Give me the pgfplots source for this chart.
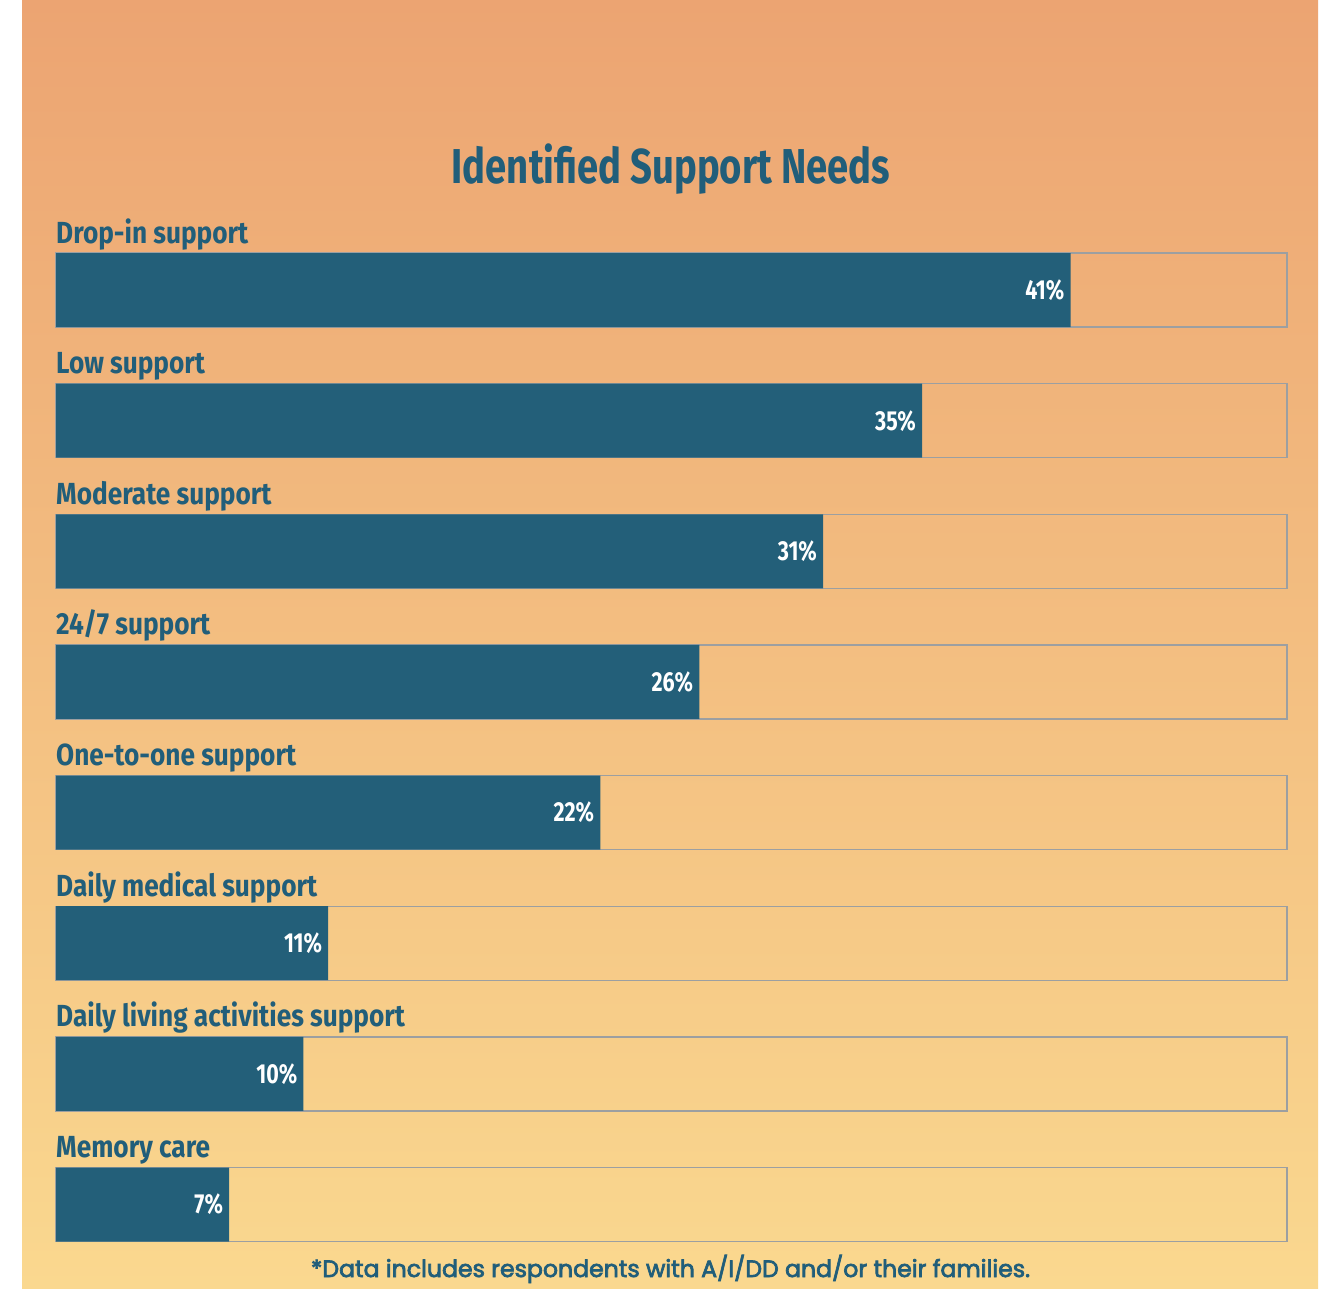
\documentclass[border=0pt]{standalone}
\usepackage{pgfplots}
\pgfplotsset{compat=1.18}
\usepackage{fontspec}
\newfontfamily\condfont[FakeStretch=0.78]{Fira Sans}
\newfontfamily\labfont[FakeStretch=0.86]{Fira Sans}
\newfontfamily\footfont[FakeBold=3]{Poppins}
\definecolor{barblue}{HTML}{235F79}
\definecolor{titleblue}{HTML}{215E7A}
\definecolor{trackgray}{HTML}{9C9FA1}
\definecolor{bgtop}{HTML}{ECA472}
\definecolor{bgmid}{HTML}{F5C385}
\definecolor{bgbot}{HTML}{FAD88F}
\begin{document}
\begin{tikzpicture}[x=1pt,y=1pt]
\fill[white] (0,0) rectangle (1329,1288);
\shade[top color=bgtop, middle color=bgmid, bottom color=bgbot] (22,0) rectangle (1318,1288);
\node[anchor=base, text=titleblue, font=\condfont\bfseries\fontsize{49}{58}\selectfont, inner sep=0pt] at (671,1104) {Identified Support Needs};
\begin{axis}[
  at={(56pt,18.2pt)}, anchor=south west,
  scale only axis, width=1231pt, height=1045.1pt,
  xmin=0, xmax=49.75,
  ymin=-0.5, ymax=7.5, y dir=reverse,
  hide axis,
  clip=false,
  /pgf/number format/assume math mode=true,
]
\addplot[xbar, bar shift=0pt, bar width=74pt, draw=trackgray, line width=1.3pt, fill=none]
  coordinates {(49.75,0) (49.75,1) (49.75,2) (49.75,3) (49.75,4) (49.75,5) (49.75,6) (49.75,7)};
\addplot[xbar, bar shift=0pt, bar width=74pt, draw=none, fill=barblue,
  point meta=x,
  nodes near coords={\pgfmathprintnumber{\pgfplotspointmeta}\%},
  every node near coord/.append style={anchor=east, xshift=-6pt, text=white, inner sep=0pt,
    font=\condfont\bfseries\fontsize{27.5}{30}\selectfont}]
  coordinates {(41,0) (35,1) (31,2) (26,3) (22,4) (11,5) (10,6) (7,7)};
\begin{scope}[every node/.style={anchor=base west, inner sep=0pt, text=titleblue, font=\labfont\bfseries\fontsize{30.5}{36}\selectfont}]
\node at (axis cs:0,-0.36) {Drop-in support};
\node at (axis cs:0,0.64) {Low support};
\node at (axis cs:0,1.64) {Moderate support};
\node at (axis cs:0,2.64) {24/7 support};
\node at (axis cs:0,3.64) {One-to-one support};
\node at (axis cs:0,4.64) {Daily medical support};
\node at (axis cs:0,5.64) {Daily living activities support};
\node at (axis cs:0,6.64) {Memory care};
\end{scope}
\end{axis}
\node[anchor=base, inner sep=0pt, text=titleblue, font=\footfont\fontsize{23.6}{28}\selectfont] at (670.5,11) {*Data includes respondents with A/I/DD and/or their families.};
\end{tikzpicture}
\end{document}
